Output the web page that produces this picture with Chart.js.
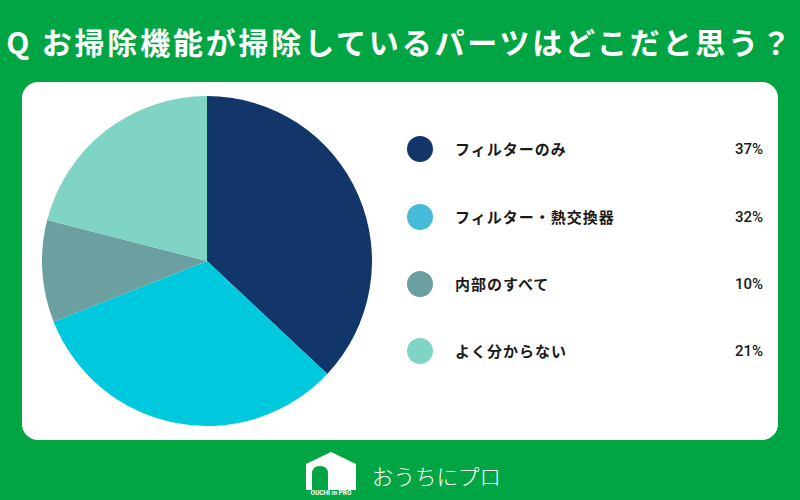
<!DOCTYPE html>
<html>
<head>
<meta charset="utf-8">
<script src="https://cdn.jsdelivr.net/npm/chart.js@4"></script>
<style>
  html, body { margin: 0; padding: 0; }
  body {
    width: 800px; height: 500px; overflow: hidden; position: relative;
    background: #02a544;
    font-family: "Noto Sans CJK JP", "Noto Sans", sans-serif;
  }
  #title {
    position: absolute; left: 0; top: 19px; width: 800px; text-align: center;
    color: #fff; font-size: 30px; font-weight: 700; line-height: 44px;
    letter-spacing: 2.8px; white-space: nowrap;
  }
  #card {
    position: absolute; left: 22px; top: 82px; width: 756px; height: 358px;
    background: #fff; border-radius: 16px;
  }
  #chartWrap { position: absolute; left: 20px; top: 14px; width: 330px; height: 330px; }
  .row { position: absolute; left: 385px; width: 356px; height: 30px; }
  .dot { position: absolute; left: 0; top: 2px; width: 26px; height: 26px; border-radius: 50%; }
  .lab { position: absolute; left: 48px; top: 0; line-height: 30px; font-size: 15px; font-weight: 700; color: #1a1a1a; letter-spacing: 1px; white-space: nowrap; }
  .pct { position: absolute; right: 0; top: 0; line-height: 30px; font-size: 15px; font-family: Roboto, sans-serif; font-weight: 500; color: #1a1a1a; }
  #logo { position: absolute; left: 304px; top: 450px; width: 220px; height: 46px; }
  #logoText { position: absolute; left: 68px; top: 6px; color: #fff; font-size: 21.5px; font-weight: 300; line-height: 40px; white-space: nowrap; }
</style>
</head>
<body>
<div id="title">Q お掃除機能が掃除しているパーツはどこだと思う？</div>
<div id="card">
  <div id="chartWrap"><canvas id="chart" width="330" height="330"></canvas></div>
  <div id="legend"></div>
</div>
<div id="logo">
  <svg width="56" height="46" viewBox="0 0 56 46">
    <path d="M2 14 L27 2 L52 14 L52 40 L2 40 Z" fill="#fff"/>
    <path d="M8 40 L8 24 Q8 16 16 16 Q24 16 24 24 L24 40 Z" fill="#02a544"/>
    <text x="27" y="45" fill="#fff" font-size="6.5" font-family="Roboto, sans-serif" font-weight="700" text-anchor="middle">OUCHI ni PRO</text>
  </svg>
  <div id="logoText">おうちにプロ</div>
</div>
<script>
var labels = ['フィルターのみ', 'フィルター・熱交換器', '内部のすべて', 'よく分からない'];
var values = [37, 32, 10, 21];
var sliceColors = ['#12366a', '#00c9de', '#6c9fa0', '#7fd4c6'];
var markerColors = ['#12366a', '#45bbd9', '#6c9fa0', '#7fd4c6'];

// legend rows built from the same arrays
var legend = document.getElementById('legend');
var rowTops = [52, 120, 187, 254];
labels.forEach(function (name, i) {
  var row = document.createElement('div');
  row.className = 'row';
  row.style.top = rowTops[i] + 'px';
  row.innerHTML = '<div class="dot" style="background:' + markerColors[i] + '"></div>' +
    '<div class="lab">' + name + '</div>' +
    '<div class="pct">' + values[i] + '%</div>';
  legend.appendChild(row);
});

var ctx = document.getElementById('chart').getContext('2d');
var myPie = new Chart(ctx, {
  type: 'pie',
  data: {
    labels: labels,
    datasets: [{
      data: values,
      backgroundColor: sliceColors,
      borderWidth: 0
    }]
  },
  options: {
    responsive: false,
    animation: { duration: 0 },
    layout: { padding: 0 },
    plugins: {
      legend: { display: false },
      tooltip: { enabled: false }
    }
  }
});
</script>
</body>
</html>
